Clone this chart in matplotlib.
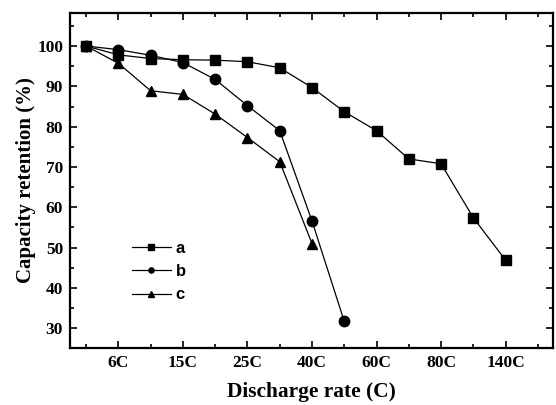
import matplotlib
matplotlib.use("Agg")
import matplotlib.pyplot as plt
from matplotlib.ticker import FixedLocator, MultipleLocator

# categorical positions along the x axis
positions = list(range(15))
major_pos = [1, 3, 5, 7, 9, 11, 13]
rate_labels = ["6C", "15C", "25C", "40C", "60C", "80C", "140C"]

# capacity retention (%)
a_vals = [100, 97.8, 96.9, 96.6, 96.5, 96.1, 94.6, 89.7, 83.7, 79.0, 72.0, 70.8, 57.4, 46.9]
b_vals = [100, 99.1, 97.7, 95.9, 91.7, 85.2, 79.0, 56.6, 31.7]
c_vals = [100, 95.7, 88.9, 88.0, 83.1, 77.3, 71.3, 51.0]

serif = "Liberation Serif"
sans = "Liberation Sans"

fig = plt.figure(figsize=(5.56, 4.05), dpi=100)
ax = fig.add_axes([0.126, 0.1407, 0.8686, 0.8273])

mk = dict(color="black", linewidth=0.9, markersize=7.5)
ax.plot(positions[:len(a_vals)], a_vals, marker="s", label="a", **mk)
ax.plot(positions[:len(b_vals)], b_vals, marker="o", label="b", **mk)
ax.plot(positions[:len(c_vals)], c_vals, marker="^", label="c", **mk)

ax.set_xlim(-0.5, 14.47)
ax.set_ylim(25.1, 108.2)

ax.xaxis.set_major_locator(FixedLocator(major_pos))
ax.xaxis.set_minor_locator(FixedLocator([p for p in positions if p not in major_pos]))
ax.set_xticklabels(rate_labels)
ax.yaxis.set_major_locator(MultipleLocator(10))
ax.yaxis.set_minor_locator(MultipleLocator(5))
ax.tick_params(which="both", direction="in", top=True, right=True, width=1.2)
ax.tick_params(which="major", length=5, pad=5)
ax.tick_params(which="minor", length=3)
for lab in ax.get_xticklabels() + ax.get_yticklabels():
    lab.set_fontfamily(serif)
    lab.set_fontweight("bold")
    lab.set_fontsize(12.5)
for sp in ax.spines.values():
    sp.set_linewidth(1.6)

ax.set_xlabel("Discharge rate (C)", fontfamily=serif, fontweight="bold", fontsize=15.4, labelpad=8)
ax.set_ylabel("Capacity retention (%)", fontfamily=serif, fontweight="bold", fontsize=15, labelpad=1)

leg = ax.legend(loc="upper left", bbox_to_anchor=(0.11, 0.345), frameon=False, borderpad=0,
                handlelength=2.35, handletextpad=0.3, labelspacing=0.5, markerscale=0.5,
                prop=dict(family=sans, weight="bold", size=12))

fig.savefig("out.png", dpi=100)
